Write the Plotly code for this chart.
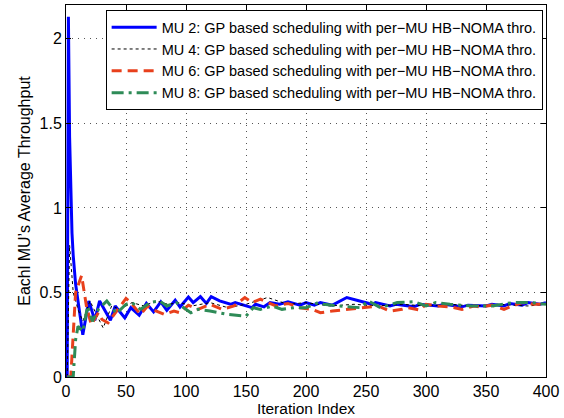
import plotly.graph_objects as go

# ---- data ----
mu2_x = [1, 2, 3, 4, 5, 6, 8, 10, 12, 14, 19, 24, 28, 37, 41, 49, 54, 61, 67, 73, 79, 84, 91, 95, 102,
         106, 112, 117, 121, 128, 137, 141, 155, 158, 165, 170, 178, 185, 195, 200, 207, 212, 222, 226,
         234, 255, 258, 270, 275, 290, 295, 310, 315, 330, 335, 350, 355, 365, 370, 380, 385, 395, 400]
mu2_y = [0, 2.13, 1.42, 1.07, 0.85, 0.72, 0.55, 0.45, 0.36, 0.25, 0.45, 0.335, 0.45, 0.335, 0.42, 0.35,
         0.41, 0.365, 0.436, 0.385, 0.444, 0.395, 0.454, 0.414, 0.473, 0.44, 0.475, 0.435, 0.475, 0.45,
         0.43, 0.44, 0.41, 0.43, 0.415, 0.44, 0.43, 0.445, 0.425, 0.44, 0.425, 0.44, 0.425, 0.44, 0.47,
         0.43, 0.44, 0.42, 0.43, 0.415, 0.43, 0.42, 0.43, 0.415, 0.425, 0.42, 0.43, 0.42, 0.435, 0.425,
         0.44, 0.43, 0.44]

mu4_x = [1, 3, 6, 10, 14, 20, 26, 31, 38, 45, 55, 65, 75, 85, 95, 105, 120, 135, 150, 168, 185, 200,
         220, 240, 260, 280, 300, 320, 340, 360, 385, 400]
mu4_y = [0, 0.78, 0.5, 0.40, 0.33, 0.45, 0.36, 0.29, 0.42, 0.40, 0.44, 0.42, 0.45, 0.43, 0.44, 0.42,
         0.44, 0.41, 0.43, 0.47, 0.43, 0.44, 0.42, 0.43, 0.42, 0.43, 0.42, 0.43, 0.42, 0.43, 0.42, 0.43]

mu6_x = [1, 4, 8, 13, 17, 21, 27, 30, 35, 50, 54, 62, 68, 72, 82, 90, 95, 102, 110, 120, 130, 140,
         149, 155, 162, 175, 185, 195, 205, 212, 222, 234, 250, 260, 270, 280, 285, 295, 300, 310, 320,
         330, 340, 345, 355, 365, 372, 380, 390, 400]
mu6_y = [0, 0, 0.5, 0.6, 0.42, 0.31, 0.38, 0.34, 0.32, 0.465, 0.44, 0.37, 0.42, 0.40, 0.37, 0.39,
         0.38, 0.425, 0.40, 0.43, 0.40, 0.42, 0.47, 0.44, 0.46, 0.42, 0.435, 0.41, 0.40, 0.38, 0.39,
         0.40, 0.41, 0.42, 0.39, 0.40, 0.41, 0.395, 0.43, 0.42, 0.415, 0.40, 0.42, 0.415, 0.425, 0.40,
         0.42, 0.44, 0.43, 0.43]

mu8_x = [1, 6, 8, 10, 14, 18, 22, 27, 34, 42, 50, 55, 62, 70, 78, 84, 92, 100, 104, 110, 120, 135,
         150, 156, 162, 172, 180, 190, 200, 210, 215, 228, 245, 252, 262, 276, 290, 300, 308, 320, 338,
         355, 372, 388, 400]
mu8_y = [0, 0, 0.22, 0.30, 0.27, 0.42, 0.33, 0.40, 0.45, 0.375, 0.43, 0.44, 0.40, 0.44, 0.45, 0.42,
         0.44, 0.40, 0.38, 0.40, 0.39, 0.37, 0.36, 0.41, 0.40, 0.42, 0.40, 0.41, 0.41, 0.44, 0.43, 0.42,
         0.41, 0.45, 0.41, 0.44, 0.445, 0.42, 0.44, 0.43, 0.42, 0.42, 0.44, 0.44, 0.43]

names = ["MU 2: GP based scheduling with per\u2212MU HB\u2212NOMA thro.",
         "MU 4: GP based scheduling with per\u2212MU HB\u2212NOMA thro.",
         "MU 6: GP based scheduling with per\u2212MU HB\u2212NOMA thro.",
         "MU 8: GP based scheduling with per\u2212MU HB\u2212NOMA thro."]

x_ticks = [0, 50, 100, 150, 200, 250, 300, 350, 400]
y_ticks = [0, 0.5, 1, 1.5, 2]

FONT = "Liberation Sans, Arial, Helvetica, sans-serif"

fig = go.Figure()
fig.add_trace(go.Scatter(x=mu2_x, y=mu2_y, mode="lines", name=names[0],
                         line=dict(color="#0000ff", width=3)))
fig.add_trace(go.Scatter(x=mu4_x, y=mu4_y, mode="lines", name=names[1],
                         line=dict(color="#000000", width=1, dash="dot")))
fig.add_trace(go.Scatter(x=mu6_x, y=mu6_y, mode="lines", name=names[2],
                         line=dict(color="#e8401c", width=3, dash="10px,6px")))
fig.add_trace(go.Scatter(x=mu8_x, y=mu8_y, mode="lines", name=names[3],
                         line=dict(color="#2e8b57", width=3, dash="12px,5px,3px,5px")))

axis_common = dict(
    showline=True, linecolor="black", linewidth=1, mirror="ticks",
    ticks="inside", ticklen=5, tickcolor="black",
    showgrid=True, gridcolor="#555555", griddash="1px,5px", gridwidth=1,
    zeroline=False, tickfont=dict(family=FONT, size=16, color="black"),
)

fig.update_xaxes(range=[0, 400], tickvals=x_ticks, ticktext=[str(v) for v in x_ticks],
                 title=dict(text="Iteration Index", font=dict(family=FONT, size=15.5, color="black"),
                            standoff=0),
                 **axis_common)
fig.update_yaxes(range=[0, 2.2], tickvals=y_ticks, ticktext=["0", "0.5", "1", "1.5", "2"],
                 title=dict(text="Eachl MU\u2019s Average Throughput",
                            font=dict(family=FONT, size=16, color="black"), standoff=4),
                 **axis_common)

fig.update_layout(
    width=564, height=418,
    margin=dict(l=66, r=18, t=5, b=41),
    plot_bgcolor="white", paper_bgcolor="white",
    font=dict(family=FONT, size=14, color="black"),
    legend=dict(x=0.993, y=0.986, xanchor="right", yanchor="top",
                bgcolor="white", bordercolor="black", borderwidth=1,
                font=dict(family=FONT, size=14.5, color="black"),
                itemwidth=45, tracegroupgap=0),
    showlegend=True,
)

fig.write_html("out.html")
